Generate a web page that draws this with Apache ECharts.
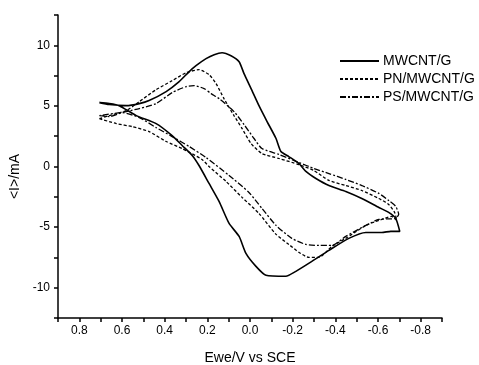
<!DOCTYPE html>
<html>
<head>
<meta charset="utf-8">
<script src="https://cdn.jsdelivr.net/npm/echarts@6/dist/echarts.min.js"></script>
<style>
html,body{margin:0;padding:0;background:#fff;}
#chart{width:479px;height:365px;}
</style>
</head>
<body>
<div id="chart"></div>
<script>
// ---- data (potential in V, current in mA) ----
const seriesNames = ['MWCNT/G', 'PN/MWCNT/G', 'PS/MWCNT/G'];

const mwcntX = [0.706,0.66,0.58,0.519,0.473,0.393,0.332,0.285,0.253,0.206,0.168,0.131,0.089,0.051,0.028,-0.005,-0.042,-0.08,-0.122,-0.145,-0.182,-0.229,-0.262,-0.309,-0.37,-0.449,-0.524,-0.604,-0.65,-0.683,-0.702,
  -0.66,-0.618,-0.543,-0.463,-0.37,-0.29,-0.215,-0.168,-0.075,-0.028,0.019,0.051,0.098,0.145,0.192,0.239,0.271,0.318,0.365,0.44,0.533,0.613,0.66,0.706];
const mwcntY = [5.27,5.11,5.02,5.19,5.44,6.18,7.0,7.83,8.32,8.9,9.23,9.39,9.14,8.65,7.66,6.43,5.02,3.71,2.31,1.24,0.82,0.25,-0.41,-0.99,-1.57,-2.06,-2.64,-3.38,-3.79,-4.28,-5.35,
  -5.35,-5.44,-5.44,-5.93,-6.92,-7.83,-8.65,-9.06,-8.98,-8.24,-7.17,-5.77,-4.7,-2.88,-1.4,0.08,0.91,1.73,2.55,3.54,4.2,5.02,5.19,5.27];

const pnX = [0.706,0.66,0.58,0.519,0.44,0.365,0.299,0.239,0.192,0.159,0.122,0.075,0.037,-0.005,-0.056,-0.136,-0.229,-0.299,-0.37,-0.449,-0.524,-0.604,-0.65,-0.678,-0.688,
  -0.664,-0.604,-0.543,-0.449,-0.384,-0.323,-0.276,-0.229,-0.182,-0.122,-0.042,0.037,0.112,0.192,0.225,0.318,0.393,0.473,0.552,0.627,0.706];
const pnY = [3.95,4.2,4.61,5.35,6.34,7.08,7.74,7.99,7.58,6.84,5.6,4.2,3.13,1.89,1.07,0.66,0.16,-0.33,-1.15,-1.57,-1.98,-2.64,-3.13,-3.79,-4.45,
  -4.12,-4.45,-4.86,-5.93,-6.59,-7.5,-7.5,-7.08,-6.43,-5.6,-3.87,-2.55,-1.24,0.0,0.58,1.48,2.06,2.88,3.29,3.54,3.95];

const psX = [0.706,0.66,0.599,0.519,0.44,0.365,0.299,0.262,0.215,0.182,0.145,0.075,0.028,-0.019,-0.056,-0.136,-0.229,-0.299,-0.37,-0.449,-0.524,-0.604,-0.65,-0.683,-0.697,
  -0.683,-0.604,-0.543,-0.449,-0.384,-0.323,-0.262,-0.196,-0.122,-0.056,0.005,0.098,0.206,0.285,0.365,0.44,0.519,0.599,0.706];
const psY = [4.2,4.12,4.45,4.78,5.19,6.1,6.59,6.67,6.43,6.01,5.6,4.53,3.46,2.31,1.48,0.99,0.33,-0.16,-0.58,-1.07,-1.57,-2.22,-2.8,-3.29,-3.95,
  -4.28,-4.37,-4.86,-5.77,-6.51,-6.51,-6.43,-5.93,-4.86,-3.46,-2.14,-0.74,0.74,1.65,2.47,3.21,4.04,4.45,4.2];

const xTickLabels = ['0.8','0.6','0.4','0.2','0.0','-0.2','-0.4','-0.6','-0.8'];
const yTickLabels = ['-10','-5','0','5','10'];

function zip(xs, ys){ return xs.map((x,i)=>[x, ys[i]]); }

const chart = echarts.init(document.getElementById('chart'), null, {renderer:'canvas'});
const font = 'Arial, "Liberation Sans", sans-serif';
const axisCommon = {
  axisLine:{show:true, onZero:false, lineStyle:{color:'#000', width:1.5}},
  axisTick:{show:true, inside:false, length:4, lineStyle:{color:'#000', width:1.5}},
  splitLine:{show:false},
  axisLabel:{color:'#000', fontSize:12, fontFamily:font},
  nameTextStyle:{color:'#000', fontSize:14, fontFamily:font}
};

chart.setOption({
  animation:false,
  backgroundColor:'#fff',
  grid:{left:58, right:37, top:15, bottom:47, containLabel:false, outerBoundsMode:'none'},
  legend:{
    left:334, top:49, orient:'vertical', itemWidth:39, itemHeight:14, itemGap:4,
    itemStyle:{opacity:0, borderWidth:0},
    textStyle:{color:'#000', fontSize:14, fontFamily:font, padding:[0,0,0,-1]},
    data:seriesNames
  },
  xAxis:Object.assign({}, axisCommon, {
    type:'value', inverse:true, min:-0.9, max:0.9, interval:0.1,
    name:'Ewe/V vs SCE', nameLocation:'middle', nameGap:33,
    axisLabel:Object.assign({}, axisCommon.axisLabel, {
      margin:7,
      formatter:function(v){
        const k = Math.round(v*10);
        if (Math.abs(k) > 8 || k % 2 !== 0) return '';
        const s = (k/10).toFixed(1);
        return xTickLabels.indexOf(s) >= 0 ? s : (s === '-0.0' ? '0.0' : '');
      }
    })
  }),
  yAxis:Object.assign({}, axisCommon, {
    type:'value', min:-12.5, max:12.5, interval:2.5,
    name:'<I>/mA', nameLocation:'middle', nameGap:36,
    nameTextStyle:Object.assign({}, axisCommon.nameTextStyle, {padding:[0,0,0,-20]}),
    axisLabel:Object.assign({}, axisCommon.axisLabel, {
      margin:8,
      formatter:function(v){
        const s = String(Math.round(v*10)/10);
        return yTickLabels.indexOf(s) >= 0 ? s : '';
      }
    })
  }),
  series:[
    {name:seriesNames[0], type:'line', data:zip(mwcntX, mwcntY), symbol:'none', smooth:0.2,
     lineStyle:{color:'#000', width:1.6, type:'solid'}, itemStyle:{color:'#000'}},
    {name:seriesNames[1], type:'line', data:zip(pnX, pnY), symbol:'none', smooth:0.2,
     lineStyle:{color:'#000', width:1.3, type:[3,2]}, itemStyle:{color:'#000'}},
    {name:seriesNames[2], type:'line', data:zip(psX, psY), symbol:'none', smooth:0.2,
     lineStyle:{color:'#000', width:1.3, type:[6,2,2,2]}, itemStyle:{color:'#000'}}
  ]
});
</script>
</body>
</html>
